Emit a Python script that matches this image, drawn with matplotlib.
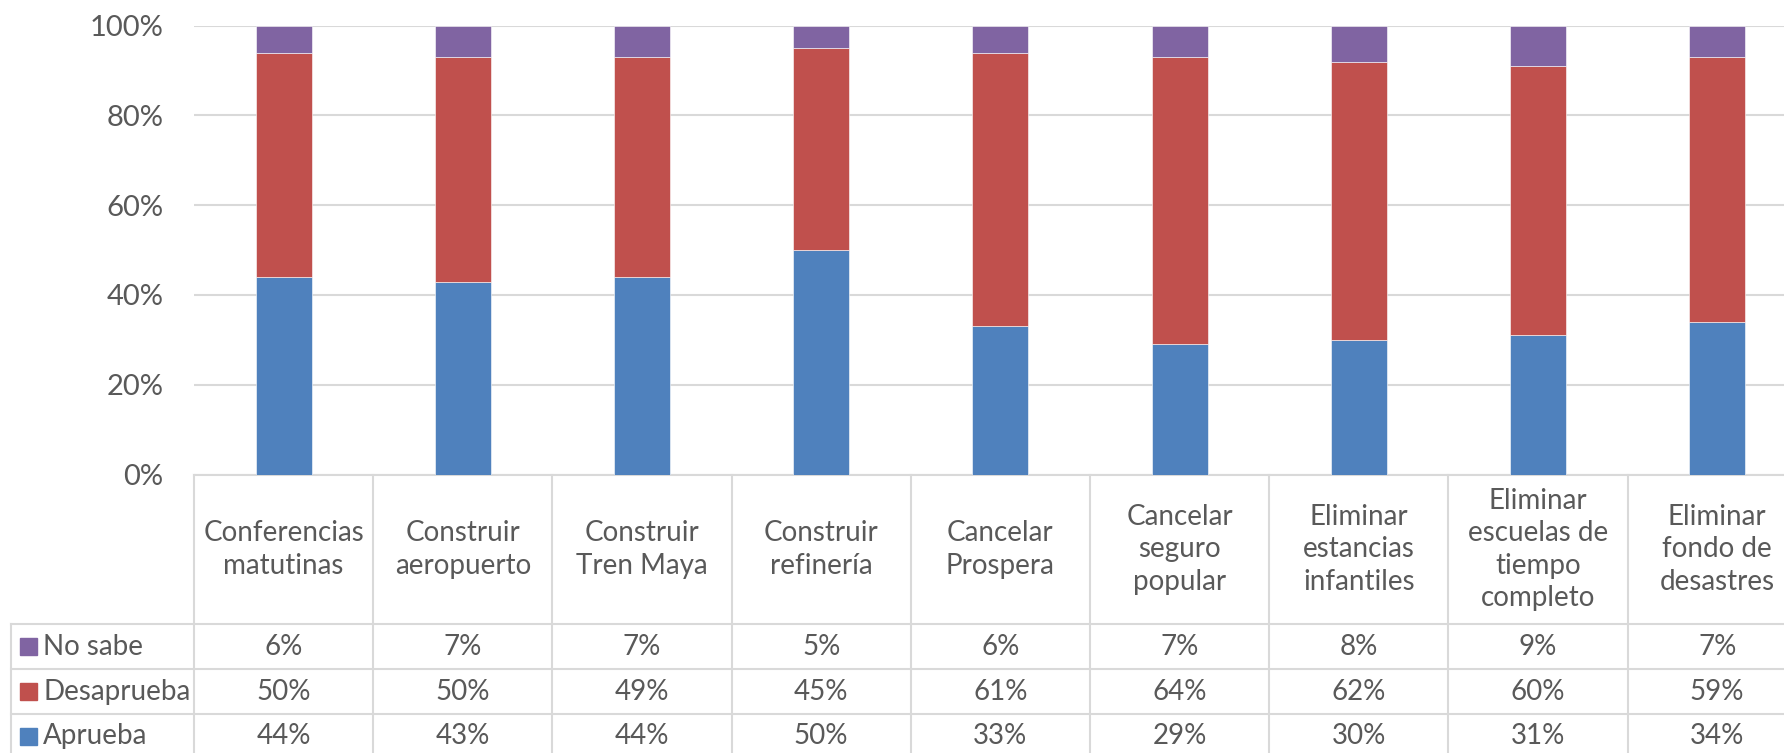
import numpy as np
import matplotlib.pyplot as plt

plt.rcParams['font.family'] = ['Lato', 'DejaVu Sans']

# Datos
categorias = ["Conferencias\nmatutinas", "Construir\naeropuerto", "Construir\nTren Maya",
              "Construir\nrefinería", "Cancelar\nProspera", "Cancelar\nseguro\npopular",
              "Eliminar\nestancias\ninfantiles", "Eliminar\nescuelas de\ntiempo\ncompleto",
              "Eliminar\nfondo de\ndesastres"]
aprueba    = [44, 43, 44, 50, 33, 29, 30, 31, 34]
desaprueba = [50, 50, 49, 45, 61, 64, 62, 60, 59]
no_sabe    = [6, 7, 7, 5, 6, 7, 8, 9, 7]

series = [("No sabe", no_sabe, "#8064A2"),
          ("Desaprueba", desaprueba, "#C0504D"),
          ("Aprueba", aprueba, "#4F81BD")]

W, H = 1784, 753
fig = plt.figure(figsize=(W / 100, H / 100), dpi=100)
# axes extends past the right edge like the cropped original
ax = fig.add_axes([194 / W, 1 - 474.5 / H, 1612.8 / W, 448.8 / H])

x = np.arange(len(categorias))
a = np.array(aprueba) / 100
d = np.array(desaprueba) / 100
n = np.array(no_sabe) / 100
bw = 0.3125
ax.bar(x, a, bw, color="#4F81BD", edgecolor="white", linewidth=0.4, zorder=3)
ax.bar(x, d, bw, bottom=a, color="#C0504D", edgecolor="white", linewidth=0.4, zorder=3)
ax.bar(x, n, bw, bottom=a + d, color="#8064A2", edgecolor="white", linewidth=0.4, zorder=3)

ax.set_xlim(-0.5, len(categorias) - 0.5)
ax.set_ylim(0, 1)
ax.set_yticks(np.arange(0, 1.01, 0.2))
ax.set_yticklabels([f"{int(v * 100)}%" for v in np.arange(0, 1.01, 0.2)])
ax.tick_params(axis="y", length=0, pad=22, labelsize=21, labelcolor="#595959")
ax.set_xticks([])
ax.grid(axis="y", color="#D9D9D9", linewidth=1.5, zorder=0)
for s in ax.spines.values():
    s.set_visible(False)

# --- data table ---
gc = "#D9D9D9"
tc = "#595959"
lw = 1.5
fs = 20
hdr_bot = -0.3336
row_h = 0.1
rows_y = [hdr_bot - i * row_h for i in range(4)]
left = -1.521
n_cat = len(categorias)

kw = dict(color=gc, lw=lw, clip_on=False, zorder=1)
# top border of header
ax.plot([-0.5, n_cat - 0.5], [0, 0], **kw)
# horizontal row lines
for yy in rows_y:
    ax.plot([left, n_cat - 0.5], [yy, yy], **kw)
# vertical column lines
for k in range(n_cat + 1):
    ax.plot([k - 0.5, k - 0.5], [0, rows_y[-1]], **kw)
ax.plot([left, left], [hdr_bot, rows_y[-1]], **kw)

# header texts
for k, c in enumerate(categorias):
    ax.text(k, hdr_bot / 2, c, ha="center", va="center", fontsize=fs, color=tc,
            linespacing=1.3, clip_on=False)

# rows
for r, (name, vals, col) in enumerate(series):
    yc = hdr_bot - (r + 0.5) * row_h
    ax.add_patch(plt.Rectangle((-1.471, yc - 0.019), 0.095, 0.038, color=col,
                               clip_on=False, transform=ax.transData))
    ax.text(-1.341, yc, name, ha="left", va="center", fontsize=fs, color=tc, clip_on=False)
    for k, v in enumerate(vals):
        ax.text(k, yc, f"{v}%", ha="center", va="center", fontsize=fs, color=tc, clip_on=False)

fig.savefig("out.png", dpi=100)
